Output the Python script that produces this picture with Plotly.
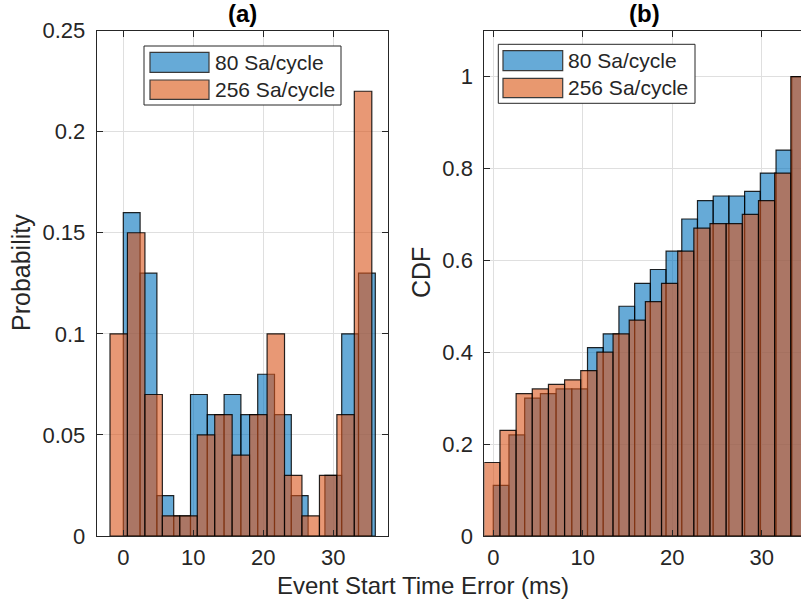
import plotly.graph_objects as go

W, H = 801, 605

# ---------------- data ----------------
# (a) probability histograms: bin edges (ms) and bin probabilities
prob_edges_80 = [0.0, 2.4, 4.8, 7.2, 9.6, 12.0, 14.4, 16.8, 19.2, 21.6, 24.0, 26.4, 28.8, 31.2, 33.6, 36.0]
prob_80 = [0.16, 0.13, 0.02, 0.01, 0.07, 0.06, 0.07, 0.06, 0.08, 0.06, 0.02, 0.00, 0.03, 0.10, 0.13]
prob_edges_256 = [-1.90, 0.59, 3.09, 5.58, 8.07, 10.57, 13.06, 15.55, 18.04, 20.54, 23.03, 25.52, 28.02, 30.51, 33.00, 35.50]
prob_256 = [0.10, 0.15, 0.07, 0.01, 0.01, 0.05, 0.06, 0.04, 0.06, 0.10, 0.03, 0.01, 0.03, 0.06, 0.22]

# (b) CDF histograms
cdf_edges_80 = [0.0, 1.755, 3.51, 5.265, 7.02, 8.775, 10.53, 12.285, 14.04, 15.795, 17.55,
                19.305, 21.06, 22.815, 24.57, 26.325, 28.08, 29.835, 31.59, 33.345, 35.1]
cdf_80 = [0.11, 0.22, 0.30, 0.31, 0.32, 0.32, 0.41, 0.44, 0.50, 0.55,
          0.58, 0.62, 0.69, 0.73, 0.74, 0.74, 0.75, 0.79, 0.84, 1.00]
cdf_edges_256 = [-1.055, 0.75, 2.555, 4.36, 6.165, 7.97, 9.775, 11.58, 13.385, 15.19, 16.995,
                 18.8, 20.605, 22.41, 24.215, 26.02, 27.825, 29.63, 31.435, 33.24, 35.045]
cdf_256 = [0.16, 0.23, 0.31, 0.32, 0.33, 0.34, 0.36, 0.40, 0.44, 0.47,
           0.51, 0.55, 0.62, 0.67, 0.68, 0.68, 0.70, 0.73, 0.79, 1.00]

series_names = ["80 Sa/cycle", "256 Sa/cycle"]
x_ticks = [0, 10, 20, 30]
prob_ticks = [0, 0.05, 0.1, 0.15, 0.2, 0.25]
prob_tick_text = ["0", "0.05", "0.1", "0.15", "0.2", "0.25"]
cdf_ticks = [0, 0.2, 0.4, 0.6, 0.8, 1.0]
cdf_tick_text = ["0", "0.2", "0.4", "0.6", "0.8", "1"]

# ---------------- style ----------------
FONT = "Liberation Sans, Arial, Helvetica, sans-serif"
TXT = "#262626"
GRID = "#dfdfdf"
BLUE_FILL = "rgba(0,114,189,0.6)"
ORANGE_FILL = "rgba(217,83,25,0.6)"
BLUE_SOLID = "#66aad7"
ORANGE_SOLID = "#e8986f"
EDGE = "rgba(0,0,0,0.85)"


def centers(edges):
    return [(edges[i] + edges[i + 1]) / 2 for i in range(len(edges) - 1)]


def widths(edges):
    return [edges[i + 1] - edges[i] for i in range(len(edges) - 1)]


fig = go.Figure()

for edges, vals, fill, name, xa, ya in [
    (prob_edges_80, prob_80, BLUE_FILL, series_names[0], "x", "y"),
    (prob_edges_256, prob_256, ORANGE_FILL, series_names[1], "x", "y"),
    (cdf_edges_80, cdf_80, BLUE_FILL, series_names[0], "x2", "y2"),
    (cdf_edges_256, cdf_256, ORANGE_FILL, series_names[1], "x2", "y2"),
]:
    fig.add_trace(go.Bar(
        x=centers(edges), y=vals, width=widths(edges), name=name,
        marker=dict(color=fill, line=dict(color=EDGE, width=1.2)),
        xaxis=xa, yaxis=ya, showlegend=False, hoverinfo="x+y",
    ))


def px(x):
    return x / W


def py(y):
    return 1 - y / H


y_dom = [py(536.0), py(30.6)]

axis_common = dict(
    showline=True, linecolor=TXT, linewidth=1,
    ticks="inside", ticklen=6, tickcolor=TXT, tickwidth=1,
    showgrid=True, gridcolor=GRID, gridwidth=1,
    zeroline=False, automargin=False,
    tickfont=dict(family=FONT, size=22, color=TXT),
)

fig.update_layout(
    width=W, height=H,
    margin=dict(l=0, r=0, t=0, b=0, pad=0, autoexpand=False),
    paper_bgcolor="white", plot_bgcolor="white",
    barmode="overlay", showlegend=False,
    font=dict(family=FONT, color=TXT),
    xaxis=dict(domain=[px(96.7), px(387.7)], range=[-3.8, 37.77], anchor="y",
               tickvals=x_ticks, mirror="ticks", ticklabelstandoff=2, **axis_common),
    yaxis=dict(domain=y_dom, range=[0, 0.25], anchor="x",
               tickvals=prob_ticks, ticktext=prob_tick_text, mirror="ticks",
               ticklabelstandoff=6, **axis_common),
    xaxis2=dict(domain=[px(484.3), 1.0], range=[-1.0, 34.38], anchor="y2",
                tickvals=x_ticks, mirror="ticks", ticklabelstandoff=2, **axis_common),
    yaxis2=dict(domain=y_dom, range=[0, 1.1], anchor="x2",
                tickvals=cdf_ticks, ticktext=cdf_tick_text, mirror=False,
                ticklabelstandoff=6, **axis_common),
)

shapes = []
annotations = []


def add_legend(x0, y0, x1, y1, patch_x0, patch_x1, text_x):
    shapes.append(dict(type="rect", xref="paper", yref="paper",
                       x0=px(x0), x1=px(x1), y0=py(y1), y1=py(y0),
                       fillcolor="white", line=dict(color=TXT, width=1), layer="above"))
    rows = [(52.3, 72.3, BLUE_SOLID, series_names[0]), (80.0, 99.3, ORANGE_SOLID, series_names[1])]
    for top, bot, col, name in rows:
        dy = y0 - 46.0
        shapes.append(dict(type="rect", xref="paper", yref="paper",
                           x0=px(patch_x0), x1=px(patch_x1), y0=py(bot + dy), y1=py(top + dy),
                           fillcolor=col, line=dict(color="#3a3a3a", width=1.2), layer="above"))
        annotations.append(dict(xref="paper", yref="paper", x=px(text_x), y=py((top + bot) / 2 + dy),
                                text=name, showarrow=False, xanchor="left", yanchor="middle",
                                font=dict(family=FONT, size=21, color=TXT)))


add_legend(144.0, 46.0, 341.0, 105.0, 150.0, 209.0, 213.0)
add_legend(498.3, 44.3, 695.0, 103.3, 503.0, 562.7, 566.0)

# titles
annotations.append(dict(xref="paper", yref="paper", x=px(242.5), y=py(14), text="<b>(a)</b>",
                        showarrow=False, xanchor="center", yanchor="middle",
                        font=dict(family=FONT, size=24, color="black")))
annotations.append(dict(xref="paper", yref="paper", x=px(644), y=py(14), text="<b>(b)</b>",
                        showarrow=False, xanchor="center", yanchor="middle",
                        font=dict(family=FONT, size=24, color="black")))
# axis labels
annotations.append(dict(xref="paper", yref="paper", x=px(423), y=py(585), text="Event Start Time Error (ms)",
                        showarrow=False, xanchor="center", yanchor="middle",
                        font=dict(family=FONT, size=24, color=TXT)))
annotations.append(dict(xref="paper", yref="paper", x=px(21), y=py(273), text="Probability",
                        showarrow=False, xanchor="center", yanchor="middle", textangle=-90,
                        font=dict(family=FONT, size=25, color=TXT)))
annotations.append(dict(xref="paper", yref="paper", x=px(421), y=py(272), text="CDF",
                        showarrow=False, xanchor="center", yanchor="middle", textangle=-90,
                        font=dict(family=FONT, size=25, color=TXT)))

fig.update_layout(shapes=shapes, annotations=annotations)

fig.write_html("out.html")
